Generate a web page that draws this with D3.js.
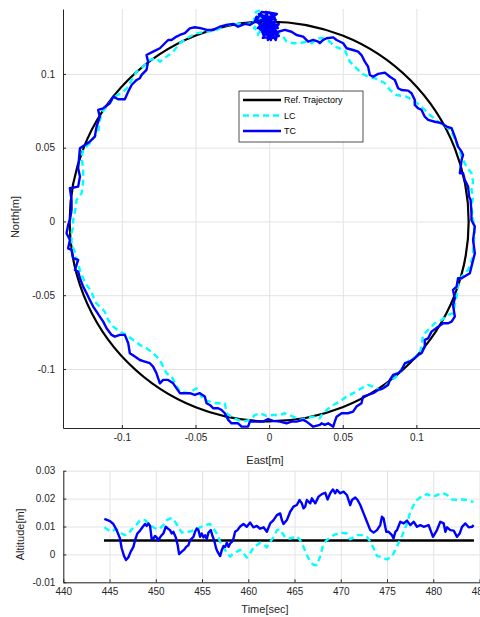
<!DOCTYPE html>
<html>
<head>
<meta charset="utf-8">
<script src="https://cdn.jsdelivr.net/npm/d3@7"></script>
<style>
  body { margin: 0; background: #fff; }
  svg { display: block; font-family: "Liberation Sans", Arial, sans-serif; }
  .tick text { fill: #262626; font-size: 10px; }
  .grid line { stroke: #e3e3e3; stroke-width: 1; }
  .grid path { display: none; }
</style>
</head>
<body>
<svg id="chart" width="480" height="617"></svg>
<script>
// reference circle radius [m]
const refRadius = 0.1355;

// TC trajectory [east, north] in m
const tcPath = [
  [-0.0077,0.1379],[-0.0050,0.1420],[0.0005,0.1413],[0.0039,0.1379],[-0.0050,0.1366],[0.0018,0.1332],[-0.0022,0.1400],
  [0.0059,0.1311],[-0.0063,0.1339],[0.0005,0.1264],[0.0039,0.1352],[-0.0029,0.1298],[0.0025,0.1244],[-0.0009,0.1366],
  [0.0052,0.1284],[-0.0050,0.1311],[0.0012,0.1230],[0.0032,0.1318],
  [-0.0070,0.1406],[0.0045,0.1366],[-0.0043,0.1244],[0.0066,0.1257],[-0.0084,0.1352],[0.0018,0.1393],[-0.0009,0.1230],
  [0.0066,0.1339],[-0.0056,0.1298],[0.0032,0.1271],[-0.0022,0.1420],[0.0052,0.1406],[-0.0077,0.1311],[0.0005,0.1311],
  [-0.0036,0.1352],[0.0045,0.1230],[0.0061,0.1286],
  [0.0107,0.1298],[0.0152,0.1286],[0.0186,0.1264],[0.0231,0.1253],[0.0265,0.1219],[0.0299,0.1230],[0.0333,0.1219],
  [0.0344,0.1208],[0.0367,0.1230],[0.0390,0.1242],[0.0435,0.1248],[0.0458,0.1230],[0.0503,0.1208],[0.0526,0.1174],
  [0.0570,0.1162],[0.0604,0.1151],[0.0627,0.1128],[0.0650,0.1083],[0.0672,0.1049],[0.0684,0.0993],[0.0706,0.0981],
  [0.0740,0.1000],[0.0786,0.1009],[0.0820,0.0981],[0.0854,0.0959],[0.0876,0.0903],[0.0899,0.0891],[0.0944,0.0887],
  [0.0967,0.0869],[0.0989,0.0824],[0.0989,0.0790],[0.1012,0.0767],[0.1035,0.0756],[0.1057,0.0710],[0.1080,0.0688],
  [0.1125,0.0676],[0.1171,0.0666],[0.1205,0.0643],[0.1239,0.0632],[0.1261,0.0575],[0.1283,0.0507],[0.1307,0.0473],
  [0.1317,0.0451],[0.1307,0.0417],[0.1295,0.0327],[0.1317,0.0327],[0.1329,0.0281],[0.1351,0.0236],[0.1358,0.0168],
  [0.1368,0.0146],[0.1374,0.0056],[0.1374,0.0010],[0.1397,-0.0035],[0.1385,-0.0125],[0.1397,-0.0216],[0.1374,-0.0306],
  [0.1363,-0.0351],[0.1307,-0.0385],[0.1283,-0.0385],[0.1273,-0.0442],[0.1249,-0.0464],[0.1261,-0.0521],[0.1249,-0.0566],
  [0.1261,-0.0645],[0.1239,-0.0679],[0.1216,-0.0690],[0.1182,-0.0690],[0.1148,-0.0713],[0.1103,-0.0747],[0.1080,-0.0792],
  [0.1057,-0.0803],[0.1057,-0.0849],[0.1035,-0.0893],[0.1012,-0.0905],[0.0989,-0.0927],[0.0955,-0.0950],[0.0922,-0.0961],
  [0.0899,-0.1007],[0.0876,-0.1029],[0.0842,-0.1040],[0.0820,-0.1074],[0.0808,-0.1108],[0.0774,-0.1131],[0.0740,-0.1142],
  [0.0706,-0.1164],[0.0672,-0.1176],[0.0638,-0.1187],[0.0627,-0.1232],[0.0593,-0.1255],[0.0570,-0.1289],[0.0536,-0.1300],
  [0.0492,-0.1300],[0.0458,-0.1323],[0.0446,-0.1357],[0.0435,-0.1391],[0.0401,-0.1368],[0.0378,-0.1379],[0.0356,-0.1368],
  [0.0344,-0.1379],[0.0299,-0.1391],[0.0254,-0.1357],[0.0231,-0.1345],[0.0186,-0.1357],[0.0152,-0.1357],[0.0118,-0.1368],
  [0.0073,-0.1357],[0.0027,-0.1352],[-0.0007,-0.1339],[-0.0041,-0.1357],[-0.0086,-0.1357],[-0.0131,-0.1357],[-0.0143,-0.1391],
  [-0.0187,-0.1391],[-0.0211,-0.1368],[-0.0255,-0.1368],[-0.0278,-0.1345],[-0.0301,-0.1300],[-0.0323,-0.1278],[-0.0346,-0.1266],
  [-0.0380,-0.1266],[-0.0403,-0.1244],[-0.0425,-0.1232],[-0.0437,-0.1187],[-0.0471,-0.1164],[-0.0505,-0.1176],[-0.0539,-0.1164],
  [-0.0572,-0.1164],[-0.0606,-0.1164],[-0.0629,-0.1131],[-0.0652,-0.1097],[-0.0686,-0.1074],[-0.0720,-0.1074],[-0.0742,-0.1097],
  [-0.0765,-0.1029],[-0.0788,-0.0984],[-0.0810,-0.0961],[-0.0844,-0.0950],[-0.0878,-0.0939],[-0.0912,-0.0916],[-0.0946,-0.0893],
  [-0.0957,-0.0826],[-0.0980,-0.0769],[-0.1014,-0.0769],[-0.1048,-0.0781],[-0.1070,-0.0769],[-0.1104,-0.0724],[-0.1127,-0.0679],
  [-0.1150,-0.0645],[-0.1172,-0.0611],[-0.1195,-0.0577],[-0.1218,-0.0532],[-0.1240,-0.0487],[-0.1263,-0.0442],[-0.1285,-0.0385],
  [-0.1297,-0.0340],[-0.1319,-0.0329],[-0.1297,-0.0261],[-0.1331,-0.0249],[-0.1342,-0.0193],[-0.1365,-0.0182],[-0.1353,-0.0125],
  [-0.1376,-0.0080],[-0.1365,-0.0024],[-0.1353,0.0010],[-0.1342,0.0078],[-0.1342,0.0146],[-0.1353,0.0225],[-0.1297,0.0236],
  [-0.1285,0.0304],[-0.1297,0.0361],[-0.1285,0.0496],[-0.1252,0.0518],[-0.1218,0.0541],[-0.1184,0.0575],[-0.1172,0.0643],
  [-0.1150,0.0710],[-0.1161,0.0756],[-0.1127,0.0767],[-0.1082,0.0801],[-0.1059,0.0846],[-0.1025,0.0828],[-0.0980,0.0828],
  [-0.0957,0.0880],[-0.0934,0.0925],[-0.0900,0.0959],[-0.0878,0.0971],[-0.0866,0.0993],[-0.0833,0.1027],[-0.0822,0.1083],
  [-0.0833,0.1128],[-0.0788,0.1151],[-0.0742,0.1174],[-0.0708,0.1208],[-0.0686,0.1230],[-0.0663,0.1230],[-0.0629,0.1253],
  [-0.0606,0.1264],[-0.0572,0.1276],[-0.0539,0.1309],[-0.0505,0.1316],[-0.0459,0.1309],[-0.0425,0.1298],[-0.0380,0.1298],
  [-0.0335,0.1320],[-0.0289,0.1332],[-0.0244,0.1339],[-0.0211,0.1320],[-0.0165,0.1339],[-0.0131,0.1332],[-0.0097,0.1354],
  [-0.0086,0.1388],[-0.0036,0.1257],[0.0020,0.1400],[-0.0070,0.1300]
];

// LC trajectory [east, north] in m
const lcPath = [
  [-0.0109,0.1343],[-0.0090,0.1420],[-0.0050,0.1433],[-0.0077,0.1366],[-0.0036,0.1400],[-0.0104,0.1311],[-0.0063,0.1284],
  [-0.0022,0.1379],[-0.0077,0.1264],[-0.0050,0.1332],[-0.0009,0.1298],[0.0059,0.1277],
  [0.0095,0.1253],[0.0118,0.1219],[0.0163,0.1208],[0.0208,0.1208],[0.0254,0.1219],[0.0288,0.1208],[0.0333,0.1242],
  [0.0367,0.1242],[0.0412,0.1219],[0.0446,0.1185],[0.0514,0.1162],[0.0548,0.1083],[0.0570,0.1061],[0.0627,0.1004],
  [0.0672,0.0981],[0.0718,0.0971],[0.0786,0.0937],[0.0820,0.0891],[0.0865,0.0857],[0.0933,0.0846],[0.0989,0.0812],
  [0.1035,0.0778],[0.1091,0.0722],[0.1148,0.0676],[0.1216,0.0632],[0.1249,0.0586],[0.1273,0.0530],[0.1307,0.0439],
  [0.1340,0.0371],[0.1374,0.0327],[0.1385,0.0270],[0.1374,0.0213],[0.1385,0.0168],[0.1374,0.0100],[0.1385,0.0010],
  [0.1397,-0.0080],[0.1385,-0.0171],[0.1385,-0.0239],[0.1351,-0.0329],[0.1307,-0.0374],[0.1283,-0.0430],[0.1273,-0.0510],
  [0.1249,-0.0622],[0.1216,-0.0634],[0.1171,-0.0668],[0.1125,-0.0690],[0.1091,-0.0724],[0.1046,-0.0769],[0.1035,-0.0837],
  [0.1023,-0.0905],[0.0955,-0.0939],[0.0910,-0.0984],[0.0876,-0.1040],[0.0808,-0.1097],[0.0774,-0.1131],[0.0752,-0.1142],
  [0.0706,-0.1120],[0.0672,-0.1108],[0.0627,-0.1131],[0.0570,-0.1164],[0.0526,-0.1187],[0.0480,-0.1221],[0.0435,-0.1244],
  [0.0390,-0.1278],[0.0356,-0.1312],[0.0344,-0.1334],[0.0299,-0.1323],[0.0254,-0.1334],[0.0208,-0.1345],[0.0163,-0.1323],
  [0.0107,-0.1300],[0.0073,-0.1312],[0.0027,-0.1312],[-0.0018,-0.1318],[-0.0063,-0.1300],[-0.0097,-0.1312],[-0.0131,-0.1345],
  [-0.0177,-0.1357],[-0.0211,-0.1345],[-0.0244,-0.1334],[-0.0289,-0.1300],[-0.0301,-0.1232],[-0.0357,-0.1232],[-0.0403,-0.1221],
  [-0.0448,-0.1210],[-0.0471,-0.1164],[-0.0493,-0.1131],[-0.0550,-0.1164],[-0.0606,-0.1154],[-0.0663,-0.1052],[-0.0697,-0.1029],
  [-0.0720,-0.0984],[-0.0742,-0.0939],[-0.0788,-0.0893],[-0.0833,-0.0859],[-0.0878,-0.0837],[-0.0924,-0.0803],[-0.0968,-0.0769],
  [-0.1014,-0.0747],[-0.1059,-0.0713],[-0.1093,-0.0668],[-0.1116,-0.0611],[-0.1150,-0.0577],[-0.1184,-0.0544],[-0.1206,-0.0476],
  [-0.1240,-0.0430],[-0.1263,-0.0385],[-0.1285,-0.0329],[-0.1308,-0.0261],[-0.1319,-0.0205],[-0.1342,-0.0159],[-0.1342,-0.0080],
  [-0.1331,-0.0035],[-0.1331,0.0010],[-0.1319,0.0066],[-0.1308,0.0146],[-0.1274,0.0191],[-0.1263,0.0270],[-0.1263,0.0349],
  [-0.1274,0.0439],[-0.1263,0.0485],[-0.1218,0.0530],[-0.1184,0.0575],[-0.1161,0.0609],[-0.1150,0.0688],[-0.1138,0.0733],
  [-0.1104,0.0778],[-0.1048,0.0846],[-0.0991,0.0880],[-0.0957,0.0914],[-0.0934,0.0959],[-0.0900,0.1015],[-0.0856,0.1049],
  [-0.0810,0.1095],[-0.0765,0.1106],[-0.0742,0.1083],[-0.0697,0.1117],[-0.0652,0.1151],[-0.0606,0.1208],[-0.0561,0.1242],
  [-0.0493,0.1276],[-0.0425,0.1286],[-0.0357,0.1298],[-0.0289,0.1332],[-0.0221,0.1339],[-0.0153,0.1339],[-0.0109,0.1343],
  [-0.0070,0.1390]
];

// altitude: reference, TC and LC, [time sec, altitude m]
const refAlt = [[444.4,0.005],[484.4,0.005]];

const tcAlt = [
  [444.44,0.0127],[445.05,0.0119],[445.41,0.0109],[445.77,0.0087],[446.13,0.0057],[446.31,0.0022],[446.57,-0.0006],
  [446.78,-0.0020],[447.03,-0.0011],[447.29,0.0010],[447.58,0.0027],[447.76,0.0051],[448.01,0.0075],[448.30,0.0085],
  [448.59,0.0099],[448.84,0.0109],[449.02,0.0102],[449.20,0.0111],[449.38,0.0102],[449.56,0.0054],[449.74,0.0057],
  [449.92,0.0066],[450.10,0.0061],[450.28,0.0049],[450.46,0.0061],[450.64,0.0069],[450.82,0.0075],[451.08,0.0099],
  [451.29,0.0093],[451.54,0.0087],[451.72,0.0075],[451.90,0.0081],[452.16,0.0061],[452.37,0.0033],[452.52,0.0001],
  [452.81,0.0010],[453.10,0.0018],[453.28,0.0027],[453.53,0.0033],[453.71,0.0051],[453.89,0.0057],[454.07,0.0063],
  [454.25,0.0081],[454.43,0.0093],[454.61,0.0087],[454.79,0.0063],[454.97,0.0075],[455.15,0.0061],[455.33,0.0069],
  [455.51,0.0054],[455.69,0.0078],[455.95,0.0087],[456.13,0.0066],[456.31,0.0051],[456.52,0.0022],[456.67,0.0010],
  [456.96,-0.0006],[457.14,0.0016],[457.32,0.0030],[457.50,0.0027],[457.68,0.0042],[457.86,0.0027],[458.04,0.0039],
  [458.22,0.0045],[458.40,0.0057],[458.58,0.0081],[458.83,0.0087],[459.12,0.0100],[459.48,0.0109],[459.84,0.0099],
  [460.20,0.0114],[460.56,0.0097],[460.92,0.0102],[461.28,0.0092],[461.65,0.0097],[462.01,0.0081],[462.37,0.0111],
  [462.73,0.0123],[463.09,0.0141],[463.45,0.0147],[463.63,0.0123],[463.81,0.0109],[464.17,0.0123],[464.53,0.0153],
  [464.89,0.0171],[465.25,0.0177],[465.54,0.0195],[465.79,0.0183],[465.97,0.0165],[466.15,0.0171],[466.33,0.0195],
  [466.70,0.0183],[466.88,0.0201],[467.24,0.0183],[467.60,0.0207],[467.96,0.0216],[468.32,0.0221],[468.57,0.0197],
  [468.86,0.0219],[469.15,0.0233],[469.40,0.0219],[469.58,0.0231],[469.94,0.0219],[470.30,0.0225],[470.66,0.0213],
  [471.02,0.0177],[471.21,0.0195],[471.57,0.0204],[471.82,0.0195],[472.11,0.0177],[472.47,0.0147],[472.83,0.0117],
  [473.19,0.0087],[473.55,0.0078],[473.91,0.0087],[474.27,0.0105],[474.45,0.0135],[474.63,0.0129],[474.92,0.0081],
  [475.17,0.0081],[475.53,0.0069],[475.71,0.0057],[475.90,0.0081],[476.08,0.0087],[476.44,0.0117],[476.80,0.0111],
  [477.16,0.0121],[477.52,0.0105],[477.88,0.0117],[478.24,0.0099],[478.60,0.0105],[478.96,0.0099],[479.50,0.0105],
  [479.97,0.0063],[480.40,0.0087],[480.76,0.0117],[481.13,0.0111],[481.31,0.0081],[481.49,0.0097],[481.85,0.0087],
  [482.21,0.0085],[482.57,0.0063],[482.86,0.0075],[483.11,0.0099],[483.47,0.0111],[483.83,0.0097],[484.19,0.0099],
  [484.37,0.0105]
];

const lcAlt = [
  [444.44,0.0097],[444.87,0.0087],[445.23,0.0081],[445.59,0.0090],[445.95,0.0087],[446.31,0.0075],[446.67,0.0069],
  [447.03,0.0073],[447.40,0.0090],[447.76,0.0099],[448.30,0.0123],[448.84,0.0123],[449.38,0.0105],[449.74,0.0097],
  [450.10,0.0090],[450.46,0.0093],[450.82,0.0105],[451.18,0.0123],[451.72,0.0131],[452.09,0.0117],[452.45,0.0097],
  [452.81,0.0078],[453.17,0.0081],[453.53,0.0081],[453.89,0.0084],[454.43,0.0090],[454.79,0.0097],[455.33,0.0105],
  [455.87,0.0109],[456.23,0.0093],[456.59,0.0075],[456.96,0.0045],[457.32,0.0025],[457.68,0.0006],[458.04,-0.0008],
  [458.40,0.0004],[458.76,0.0010],[459.12,0.0016],[459.48,0.0004],[459.84,-0.0011],[460.20,0.0004],[460.56,0.0025],
  [460.92,0.0033],[461.28,0.0042],[461.65,0.0037],[462.01,0.0025],[462.37,0.0045],[462.73,0.0061],[463.09,0.0087],
  [463.45,0.0090],[463.81,0.0069],[464.17,0.0057],[464.53,0.0057],[464.89,0.0061],[465.25,0.0066],[465.61,0.0051],
  [465.97,0.0027],[466.33,-0.0002],[466.70,-0.0026],[467.06,-0.0038],[467.42,-0.0038],[467.78,-0.0006],[468.14,0.0039],
  [468.50,0.0051],[469.22,0.0069],[469.94,0.0078],[470.66,0.0075],[471.02,0.0054],[471.39,0.0061],[471.75,0.0069],
  [472.47,0.0069],[472.83,0.0063],[473.19,0.0045],[473.55,0.0022],[473.91,-0.0006],[474.27,-0.0008],[474.99,-0.0018],
  [475.53,-0.0008],[475.90,0.0016],[476.26,0.0042],[476.62,0.0066],[477.16,0.0111],[477.52,0.0153],[477.88,0.0177],
  [478.24,0.0195],[478.78,0.0209],[479.32,0.0216],[479.68,0.0211],[480.04,0.0207],[480.58,0.0215],[480.94,0.0221],
  [481.49,0.0213],[482.03,0.0197],[482.57,0.0195],[483.11,0.0197],[483.65,0.0195],[484.19,0.0189],[484.37,0.0189]
];

const trajXTicks = [-0.1, -0.05, 0, 0.05, 0.1];
const trajYTicks = [-0.1, -0.05, 0, 0.05, 0.1];
const timeTicks = [440, 445, 450, 455, 460, 465, 470, 475, 480, 485];
const altTicks = [-0.01, 0, 0.01, 0.02, 0.03];
const legendLabels = ["Ref. Trajectory", "LC", "TC"];

const axisColor = "#262626";
const fmt = d => String(+d.toFixed(3)); // plain hyphen minus like matlab

const svg = d3.select("#chart");

// ---------- top: trajectory ----------
const x = d3.scaleLinear().domain([-0.14, 0.1432]).range([63, 480]);
const y = d3.scaleLinear().domain([-0.14, 0.144]).range([428, 9]);

const topG = svg.append("g");

topG.append("g").attr("class", "grid")
  .attr("transform", "translate(0," + y.range()[0] + ")")
  .call(d3.axisBottom(x).tickValues(trajXTicks).tickSize(-(y.range()[0] - y.range()[1])).tickFormat(""));
topG.append("g").attr("class", "grid")
  .attr("transform", "translate(" + x.range()[0] + ",0)")
  .call(d3.axisLeft(y).tickValues(trajYTicks).tickSize(-(x.range()[1] - x.range()[0])).tickFormat(""));

topG.append("ellipse")
  .attr("cx", x(0)).attr("cy", y(0))
  .attr("rx", x(refRadius) - x(0)).attr("ry", y(0) - y(refRadius))
  .attr("fill", "none").attr("stroke", "#000").attr("stroke-width", 2.2);

const trajLine = d3.line().x(d => x(d[0])).y(d => y(d[1]));

topG.append("path").datum(lcPath)
  .attr("d", trajLine).attr("fill", "none")
  .attr("stroke", "#00ffff").attr("stroke-width", 2.4)
  .attr("stroke-dasharray", "6,4").attr("stroke-linejoin", "round");

topG.append("path").datum(tcPath)
  .attr("d", trajLine).attr("fill", "none")
  .attr("stroke", "#0000ff").attr("stroke-width", 2.4)
  .attr("stroke-linejoin", "round");

const xAxisTop = topG.append("g")
  .attr("transform", "translate(0," + y.range()[0] + ")")
  .call(d3.axisBottom(x).tickValues(trajXTicks).tickSizeInner(-3).tickSizeOuter(0).tickPadding(6).tickFormat(fmt));
const yAxisTop = topG.append("g")
  .attr("transform", "translate(" + x.range()[0] + ",0)")
  .call(d3.axisLeft(y).tickValues(trajYTicks).tickSizeInner(-3).tickSizeOuter(0).tickPadding(8).tickFormat(fmt));

[xAxisTop, yAxisTop].forEach(g => {
  g.select(".domain").attr("stroke", axisColor).attr("stroke-width", 1);
  g.selectAll(".tick line").attr("stroke", axisColor);
});

topG.append("text")
  .attr("transform", "translate(19," + y(0.003) + ") rotate(-90)")
  .attr("text-anchor", "middle").attr("fill", axisColor).attr("font-size", 11)
  .text("North[m]");
topG.append("text")
  .attr("x", 265).attr("y", 464)
  .attr("text-anchor", "middle").attr("fill", axisColor).attr("font-size", 11)
  .text("East[m]");

// legend
const legend = topG.append("g").attr("transform", "translate(239,91)");
legend.append("rect").attr("width", 124).attr("height", 51)
  .attr("fill", "#fff").attr("stroke", axisColor).attr("stroke-width", 0.8);
const legendStyles = [
  { color: "#000", dash: null },
  { color: "#00ffff", dash: "6,4" },
  { color: "#0000ff", dash: null }
];
legendLabels.forEach((lab, i) => {
  const ly = 9 + i * 15.5;
  legend.append("line").attr("x1", 4).attr("x2", 42).attr("y1", ly).attr("y2", ly)
    .attr("stroke", legendStyles[i].color).attr("stroke-width", 2.4)
    .attr("stroke-dasharray", legendStyles[i].dash);
  legend.append("text").attr("x", 45).attr("y", ly).attr("dy", "0.35em")
    .attr("font-size", 9).attr("fill", "#000").text(lab);
});

// ---------- bottom: altitude ----------
const t = d3.scaleLinear().domain([440, 485]).range([63.3, 479.5]);
const a = d3.scaleLinear().domain([-0.01, 0.03]).range([582.3, 470.7]);

const botG = svg.append("g");

botG.append("g").attr("class", "grid")
  .attr("transform", "translate(0," + a.range()[0] + ")")
  .call(d3.axisBottom(t).tickValues(timeTicks).tickSize(-(a.range()[0] - a.range()[1])).tickFormat(""));
botG.append("g").attr("class", "grid")
  .attr("transform", "translate(" + t.range()[0] + ",0)")
  .call(d3.axisLeft(a).tickValues(altTicks).tickSize(-(t.range()[1] - t.range()[0])).tickFormat(""));

const altLine = d3.line().x(d => t(d[0])).y(d => a(d[1]));

botG.append("path").datum(refAlt)
  .attr("d", altLine).attr("fill", "none")
  .attr("stroke", "#000").attr("stroke-width", 2.4);

botG.append("path").datum(lcAlt)
  .attr("d", altLine).attr("fill", "none")
  .attr("stroke", "#00ffff").attr("stroke-width", 2.4)
  .attr("stroke-dasharray", "6,4").attr("stroke-linejoin", "round");

botG.append("path").datum(tcAlt)
  .attr("d", altLine).attr("fill", "none")
  .attr("stroke", "#0000ff").attr("stroke-width", 2.4)
  .attr("stroke-linejoin", "round");

const xAxisBot = botG.append("g")
  .attr("transform", "translate(0," + a.range()[0] + ")")
  .call(d3.axisBottom(t).tickValues(timeTicks).tickSizeInner(-3).tickSizeOuter(0).tickPadding(6).tickFormat(d3.format("d")));
const yAxisBot = botG.append("g")
  .attr("transform", "translate(" + t.range()[0] + ",0)")
  .call(d3.axisLeft(a).tickValues(altTicks).tickSizeInner(-3).tickSizeOuter(0).tickPadding(8).tickFormat(fmt));

[xAxisBot, yAxisBot].forEach(g => {
  g.select(".domain").attr("stroke", axisColor).attr("stroke-width", 1);
  g.selectAll(".tick line").attr("stroke", axisColor);
});

botG.append("text")
  .attr("transform", "translate(24," + a(0.0072) + ") rotate(-90)")
  .attr("text-anchor", "middle").attr("fill", axisColor).attr("font-size", 11)
  .text("Altitude[m]");
botG.append("text")
  .attr("x", 265).attr("y", 613)
  .attr("text-anchor", "middle").attr("fill", axisColor).attr("font-size", 11)
  .text("Time[sec]");
</script>
</body>
</html>
